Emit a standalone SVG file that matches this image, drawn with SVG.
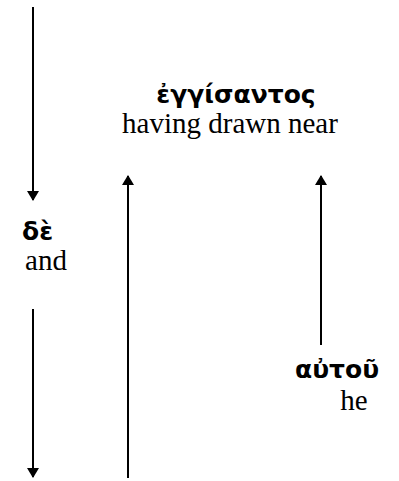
<svg xmlns="http://www.w3.org/2000/svg" width="399" height="481" viewBox="0 0 399 481">
<style>
.gk{font-family:"DejaVu Sans","Noto Sans",sans-serif;font-weight:bold;font-size:25px;fill:#000}
.en{font-family:"Liberation Serif","Times New Roman",serif;font-size:29px;fill:#000}
.ln{stroke:#000;stroke-width:2;fill:none}
</style>
<defs>
<marker id="ah" markerWidth="10" markerHeight="12" refX="9" refY="6" orient="auto" markerUnits="userSpaceOnUse" viewBox="0 0 10 12">
<path d="M0,0 L10,6 L0,12 Z" fill="#000"/>
</marker>
</defs>
<g id="connectors">
<line class="ln" x1="33" y1="7" x2="33" y2="200" marker-end="url(#ah)"/>
<line class="ln" x1="33" y1="309" x2="33" y2="477" marker-end="url(#ah)"/>
<line class="ln" x1="128" y1="478" x2="128" y2="176" marker-end="url(#ah)"/>
<line class="ln" x1="321" y1="345" x2="321" y2="176" marker-end="url(#ah)"/>
</g>
<g id="n-engisantos">
<text class="gk" x="236" y="103" text-anchor="middle">ἐγγίσαντος</text>
<text class="en" x="230" y="133" text-anchor="middle">having drawn near</text>
</g>
<g id="n-de">
<text class="gk" x="22" y="240">δὲ</text>
<text class="en" x="46" y="270" text-anchor="middle">and</text>
</g>
<g id="n-autou">
<text class="gk" x="337" y="378" text-anchor="middle">αὐτοῦ</text>
<text class="en" x="354" y="410" text-anchor="middle">he</text>
</g>
</svg>
